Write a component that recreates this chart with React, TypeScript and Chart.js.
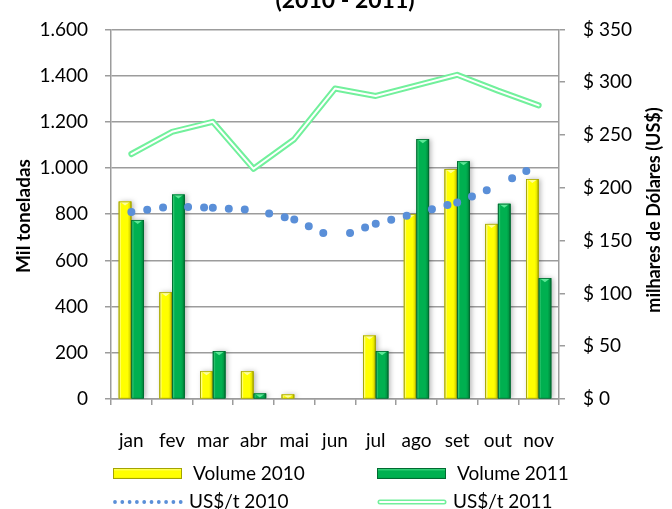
import React, { useEffect, useRef } from 'react';
import { Chart, registerables } from 'chart.js';

Chart.register(...registerables);

const months = ['jan', 'fev', 'mar', 'abr', 'mai', 'jun', 'jul', 'ago', 'set', 'out', 'nov'];
const volume2010 = [855, 462, 120, 120, 20, 3, 275, 800, 995, 758, 952];
const volume2011 = [775, 885, 207, 24, 0, 0, 207, 1125, 1029, 845, 523];
const price2010 = [177, 182.5, 181, 179, 170, 152, 166, 176, 186, 202, 222];
const price2011 = [232, 253, 262.5, 218, 246, 294, 287, 297, 307, 292, 278];

const leftMax = 1600;
const leftStep = 200;
const rightMax = 350;
const rightStep = 50;

const titleText = '(2010 - 2011)';
const leftAxisTitle = 'Mil toneladas';
const rightAxisTitle = 'milhares de Dólares (US$)';
const seriesLabels = ['Volume 2010', 'Volume 2011', 'US$/t 2010', 'US$/t 2011'];

const FONT = 'Lato, "Open Sans", "Noto Sans", sans-serif';

const YELLOW = { main: '#FFFF00', light: '#FFFF8A', mid: '#E6E600', dark: '#A3A300', top: '#FFFF99' };
const GREEN = { main: '#00B050', light: '#33C872', mid: '#009A45', dark: '#006A30', top: '#5BE796' };
const BLUE = '#5A8FD8';
const LGREEN = '#72F09C';

function fmtThousands(v: number) {
  const s = String(Math.round(v));
  return s.replace(/\B(?=(\d{3})+(?!\d))/g, '.');
}

function drawBevelBars(chart: any, meta: any, pal: any) {
  const ctx = chart.ctx;
  meta.data.forEach((el: any) => {
    const p = el.getProps(['x', 'y', 'base', 'width'], true);
    const l = p.x - p.width / 2;
    const r = p.x + p.width / 2;
    const t = Math.min(p.y, p.base);
    const b = Math.max(p.y, p.base);
    const h = b - t;
    if (h < 0.5) return;
    const g = ctx.createLinearGradient(l, 0, r, 0);
    g.addColorStop(0, pal.dark);
    g.addColorStop(0.1, pal.light);
    g.addColorStop(0.22, pal.main);
    g.addColorStop(0.7, pal.main);
    g.addColorStop(0.85, pal.mid);
    g.addColorStop(1, pal.dark);
    ctx.save();
    ctx.shadowColor = 'rgba(0,0,0,0.28)';
    ctx.shadowBlur = 5;
    ctx.shadowOffsetX = 2;
    ctx.shadowOffsetY = 0;
    ctx.fillStyle = g;
    ctx.fillRect(l, t, p.width, h);
    ctx.restore();
    const th = Math.min(4, h);
    ctx.beginPath();
    ctx.moveTo(l + 1, t);
    ctx.lineTo(r - 1, t);
    ctx.lineTo(p.x, t + th);
    ctx.closePath();
    ctx.fillStyle = pal.top;
    ctx.fill();
    ctx.strokeStyle = pal.dark;
    ctx.lineWidth = 0.8;
    ctx.strokeRect(l + 0.4, t + 0.4, p.width - 0.8, h - 0.4);
  });
}

const bevelPlugin = {
  id: 'bevel',
  afterDatasetDraw(chart: any, args: any) {
    // bars with equal order: dataset 1 is drawn first, dataset 0 last.
    if (args.meta.type !== 'bar' || args.index !== 0) return;
    const ctx = chart.ctx;
    const area = chart.chartArea;
    ctx.save();
    ctx.beginPath();
    ctx.rect(area.left, area.top - 2, area.right - area.left + 6, area.bottom - area.top + 2);
    ctx.clip();
    drawBevelBars(chart, chart.getDatasetMeta(0), YELLOW);
    drawBevelBars(chart, chart.getDatasetMeta(1), GREEN);
    ctx.restore();
  },
};

const decorPlugin = {
  id: 'decor',
  afterDraw(chart: any) {
    const ctx = chart.ctx;
    ctx.save();
    ctx.fillStyle = '#000';
    ctx.font = `bold 23px ${FONT}`;
    ctx.textAlign = 'center';
    ctx.textBaseline = 'alphabetic';
    ctx.fillText(titleText, 345, 8);

    ctx.font = `bold 19px ${FONT}`;
    ctx.textBaseline = 'middle';
    ctx.save();
    ctx.translate(24, 216);
    ctx.rotate(-Math.PI / 2);
    ctx.fillText(leftAxisTitle, 0, 0);
    ctx.restore();
    ctx.font = `bold 18px ${FONT}`;
    ctx.save();
    ctx.translate(654, 210);
    ctx.rotate(-Math.PI / 2);
    ctx.fillText(rightAxisTitle, 0, 0);
    ctx.restore();

    ctx.font = `19px ${FONT}`;
    ctx.textAlign = 'left';
    ctx.textBaseline = 'middle';
    const ds = chart.data.datasets;
    const drawBarSwatch = (x: number, y: number, pal: any) => {
      const w = 69, h = 11;
      const g = ctx.createLinearGradient(0, y, 0, y + h);
      g.addColorStop(0, pal.top);
      g.addColorStop(0.3, pal.main);
      g.addColorStop(0.8, pal.main);
      g.addColorStop(1, pal.mid);
      ctx.fillStyle = g;
      ctx.fillRect(x, y, w, h);
      ctx.strokeStyle = pal.dark;
      ctx.lineWidth = 1;
      ctx.strokeRect(x + 0.5, y + 0.5, w - 1, h - 1);
    };
    drawBarSwatch(113, 468, YELLOW);
    ctx.fillStyle = '#000';
    ctx.fillText(ds[0].label, 193, 474);
    drawBarSwatch(377, 468, GREEN);
    ctx.fillStyle = '#000';
    ctx.fillText(ds[1].label, 457, 474);

    ctx.save();
    ctx.strokeStyle = BLUE;
    ctx.lineWidth = 3.8;
    ctx.lineCap = 'round';
    ctx.setLineDash([0, 7.3]);
    ctx.beginPath();
    ctx.moveTo(115, 502);
    ctx.lineTo(181, 502);
    ctx.stroke();
    ctx.restore();
    ctx.fillStyle = '#000';
    ctx.fillText(ds[2].label, 189, 502);

    ctx.save();
    ctx.lineCap = 'round';
    ctx.strokeStyle = LGREEN;
    ctx.lineWidth = 5;
    ctx.beginPath();
    ctx.moveTo(380, 502);
    ctx.lineTo(444, 502);
    ctx.stroke();
    ctx.strokeStyle = '#FFFFFF';
    ctx.lineWidth = 1.8;
    ctx.beginPath();
    ctx.moveTo(380, 502);
    ctx.lineTo(444, 502);
    ctx.stroke();
    ctx.restore();
    ctx.fillStyle = '#000';
    ctx.fillText(ds[3].label, 453, 502);
    ctx.restore();
  },
};

export default function App() {
  const ref = useRef<HTMLCanvasElement | null>(null);

  useEffect(() => {
    if (!ref.current) return;
    const gridColor = '#9C9C9C';
    const chart = new Chart(ref.current, {
      type: 'bar',
      data: {
        labels: months,
        datasets: [
          {
            type: 'bar',
            label: seriesLabels[0],
            data: volume2010,
            backgroundColor: YELLOW.main,
            yAxisID: 'y',
            order: 4,
            barPercentage: 1,
            categoryPercentage: 0.62,
          },
          {
            type: 'bar',
            label: seriesLabels[1],
            data: volume2011,
            backgroundColor: GREEN.main,
            yAxisID: 'y',
            order: 4,
            barPercentage: 1,
            categoryPercentage: 0.62,
          },
          {
            type: 'line',
            label: seriesLabels[2],
            data: price2010,
            yAxisID: 'y1',
            order: 3,
            borderColor: BLUE,
            borderWidth: 8,
            borderCapStyle: 'round',
            borderDash: [0, 16],
            pointRadius: 0,
            tension: 0,
            fill: false,
            segment: {
              borderDashOffset: (c: any) => (c.p0DataIndex % 2 ? 0.0001 : 0),
            },
          } as any,
          {
            type: 'line',
            label: seriesLabels[3],
            data: price2011,
            yAxisID: 'y1',
            order: 2,
            borderColor: LGREEN,
            borderWidth: 6,
            borderCapStyle: 'round',
            borderJoinStyle: 'round',
            pointRadius: 0,
            tension: 0,
            fill: false,
          } as any,
          {
            type: 'line',
            label: '',
            data: price2011,
            yAxisID: 'y1',
            order: 1,
            borderColor: '#FFFFFF',
            borderWidth: 2,
            borderCapStyle: 'round',
            borderJoinStyle: 'round',
            pointRadius: 0,
            tension: 0,
            fill: false,
          } as any,
        ],
      },
      options: {
        responsive: false,
        animation: false,
        devicePixelRatio: 1,
        layout: { padding: { top: 21.7, left: 0, right: 0, bottom: 0 } },
        plugins: {
          legend: { display: false },
          title: { display: false },
          tooltip: { enabled: false },
        },
        scales: {
          x: {
            type: 'category',
            offset: true,
            grid: {
              offset: true,
              drawOnChartArea: false,
              tickLength: 6,
              color: gridColor,
              lineWidth: 1.5,
            },
            border: { color: gridColor, width: 1.5 },
            ticks: {
              color: '#000',
              font: { family: FONT, size: 19 },
              padding: 24,
              maxRotation: 0,
              autoSkip: false,
            },
            afterFit: (s: any) => {
              s.height = 110;
            },
          },
          y: {
            position: 'left',
            min: 0,
            max: leftMax,
            ticks: {
              stepSize: leftStep,
              color: '#000',
              font: { family: FONT, size: 19 },
              padding: 17,
              callback: (v: any) => fmtThousands(Number(v)),
            },
            grid: { color: gridColor, lineWidth: 1.5, tickLength: 6 },
            border: { color: gridColor, width: 1.5 },
            afterFit: (s: any) => {
              s.width = 111;
            },
          },
          y1: {
            position: 'right',
            min: 0,
            max: rightMax,
            ticks: {
              stepSize: rightStep,
              color: '#000',
              font: { family: FONT, size: 19 },
              padding: 18,
              callback: (v: any) => '$ ' + v,
            },
            grid: { drawOnChartArea: false, color: gridColor, lineWidth: 1.5, tickLength: 6 },
            border: { color: gridColor, width: 1.5 },
            afterFit: (s: any) => {
              s.width = 113;
            },
          },
        },
      } as any,
      plugins: [bevelPlugin, decorPlugin],
    });
    return () => chart.destroy();
  }, []);

  return (
    <div style={{ position: 'absolute', left: 0, top: 0, width: 672, height: 509, background: '#fff' }}>
      <canvas ref={ref} width={672} height={509} style={{ display: 'block' }} />
    </div>
  );
}
